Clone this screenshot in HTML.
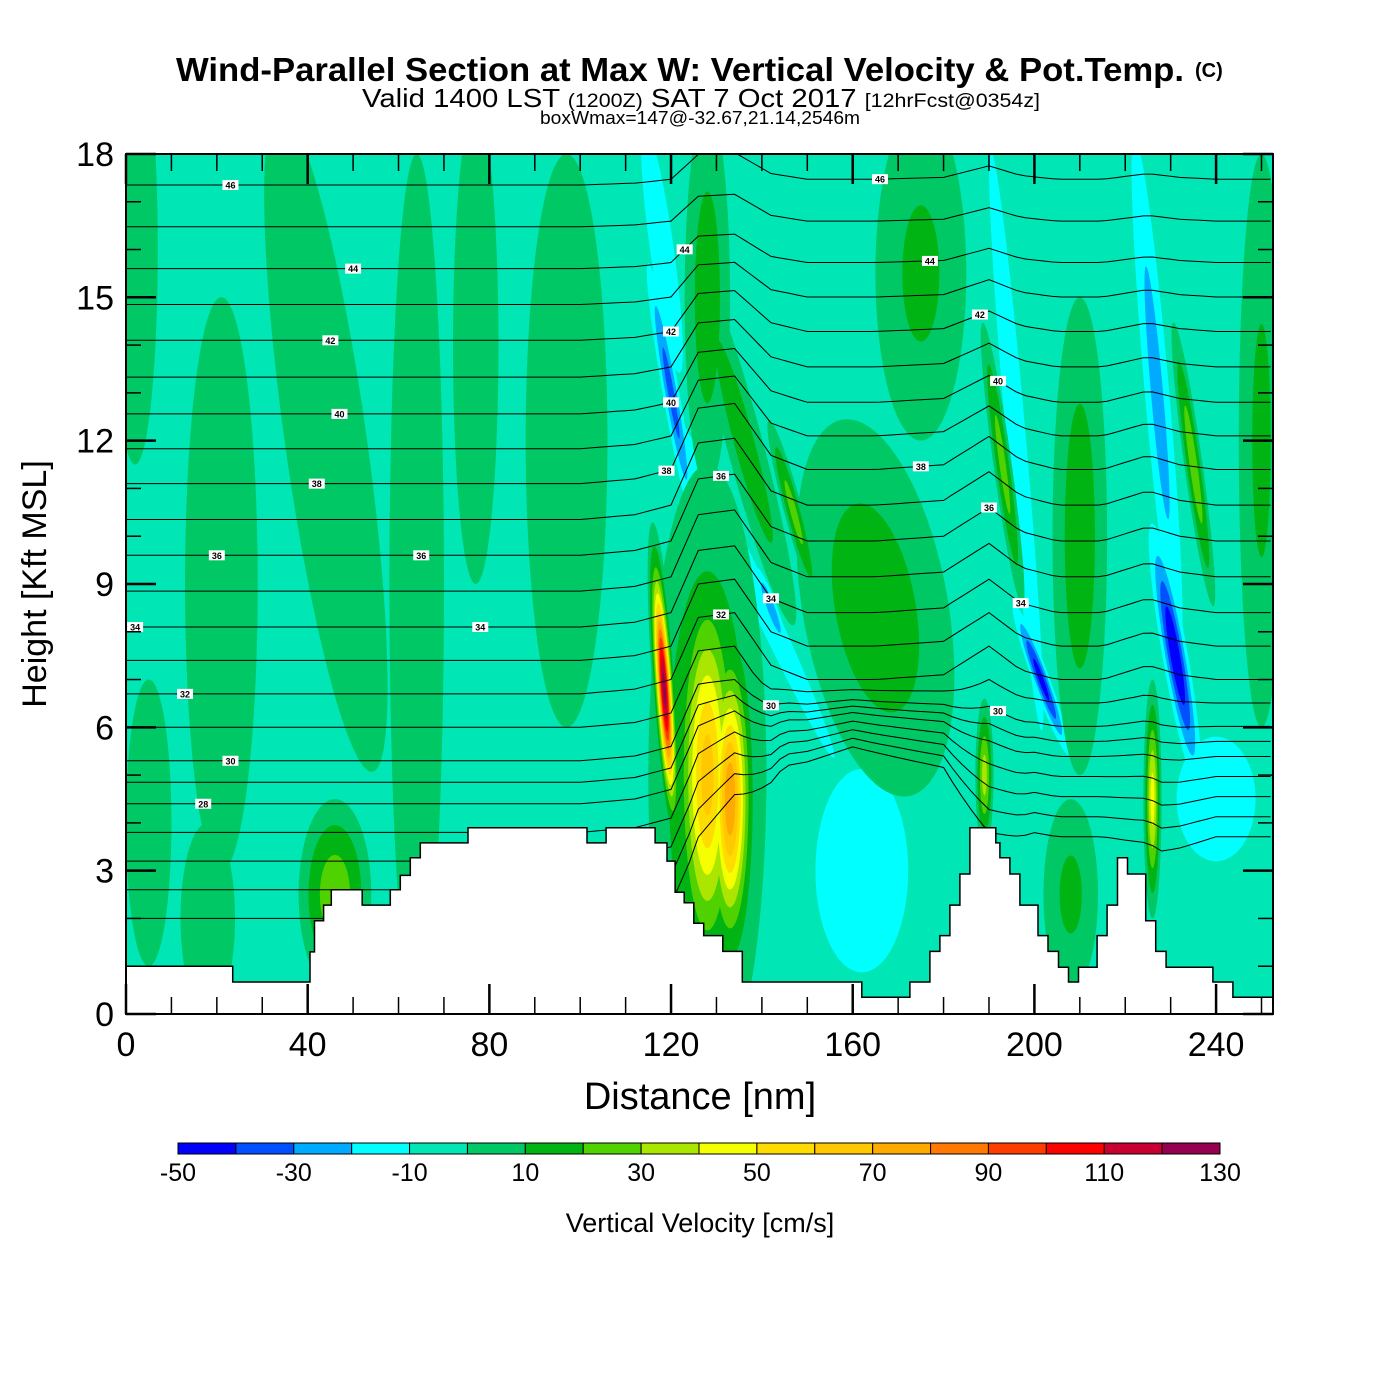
<!DOCTYPE html>
<html><head><meta charset="utf-8"><style>
body{margin:0;background:#fff;}
svg{display:block;font-family:"Liberation Sans",sans-serif;}
</style></head><body>
<svg id="chart" width="1400" height="1400" viewBox="0 0 1400 1400" xmlns="http://www.w3.org/2000/svg">
<rect x="0" y="0" width="1400" height="1400" fill="#fff"/>
<text x="176" y="81" font-size="33" font-weight="bold" textLength="1008" lengthAdjust="spacingAndGlyphs">Wind-Parallel Section at Max W: Vertical Velocity &amp; Pot.Temp.</text>
<text x="1195" y="77" font-size="20" font-weight="bold">(C)</text>
<text x="362" y="107" font-size="26" textLength="678" lengthAdjust="spacingAndGlyphs">Valid 1400 LST <tspan font-size="19">(1200Z)</tspan> SAT 7 Oct 2017 <tspan font-size="19">[12hrFcst@0354z]</tspan></text>
<text x="540" y="124" font-size="18" textLength="320" lengthAdjust="spacingAndGlyphs">boxWmax=147@-32.67,21.14,2546m</text>
<defs><clipPath id="plotclip"><rect x="126" y="154" width="1147" height="860"/></clipPath></defs>
<g id="field" clip-path="url(#plotclip)">
<rect x="126" y="154" width="1147" height="860" fill="#00e6b4"/>
</g>
<g id="axes"></g>
<g id="cbar"></g>
<text x="700" y="1109" text-anchor="middle" font-size="38">Distance [nm]</text>
<text transform="translate(46,584) rotate(-90)" text-anchor="middle" font-size="34">Height [Kft MSL]</text>
<text x="700" y="1232" text-anchor="middle" font-size="27">Vertical Velocity [cm/s]</text>
</svg>
<script>
// ---- data ----
const cbLevels=[-50,-40,-30,-20,-10,0,10,20,30,40,50,60,70,80,90,100,110,120,130];
const cbColors=["#0000ff","#0050ff","#00aaff","#00ffff","#00e6b4","#00c864","#00b414","#50d200","#aae600","#f5ff00","#ffdc00","#ffc800","#ffaa00","#ff7800","#ff3c00","#ff0000","#c80032","#960050"];
const cbLabels=[-50,-30,-10,10,30,50,70,90,110,130];
const xTicks=[0,40,80,120,160,200,240];
const yTicks=[0,3,6,9,12,15,18];
// W features: distance (nm), height (kft), radius nm, radius kft, tilt deg, peak (cm/s)
const featX =[2, 21, 44, 64, 77, 97, 18, 46, 165, 175, 210, 250, 208, 128, 136, 196, 227, 118, 120, 138, 142, 162, 201.5, 231, 240, 5, 128, 133, 128, 118.5, 189, 226, 193, 147, 235];
const featZ =[16, 9, 12, 9, 14, 12, 2, 2.5, 8.5, 15.5, 10, 12, 2.5, 15, 12, 12, 13, 16, 13, 9, 8.5, 3, 7, 7.5, 4.5, 4, 5, 4.5, 5, 6.8, 5, 4.5, 11.5, 10.5, 11.5];
const featRX=[5, 8, 9, 6, 5, 9, 6, 8, 16, 10, 6, 5, 6, 5, 4, 2.5, 3, 3, 2, 3, 1.5, 12, 2, 3, 10, 5, 13, 6, 8, 2.6, 2, 2, 2, 2, 2];
const featRZ=[4.5, 6, 7, 9, 5, 6, 2, 2, 4, 3.5, 5, 6, 2, 4, 4, 7, 6, 3, 3, 5, 1, 2.5, 1.8, 3, 1.5, 3, 6.5, 4, 5, 3.5, 1.6, 2.5, 3, 2, 3];
const featTilt=[0, 0, -8, 0, 0, 0, 0, 0, -10, 0, 0, 0, 0, 0, -15, -5, -5, -8, -10, -25, -20, 0, -20, -10, 0, 0, 0, 0, 0, -4, 0, 0, -8, -15, -8];
const featPeak=[9, 9, 9, 9, 9, 9, 9, 28, 15, 12, 15, 12, 12, 15, 15, -20, -25, -20, -35, -15, -30, -18, -45, -50, -20, 9, 20, 78, 65, 125, 35, 45, 25, 25, 28];
// terrain steps: start distance (nm) and height (kft)
const stepStart=[0,23.5,40.5,41.5,43.5,45.2,52,58.2,60.4,62.6,64.8,75.3,101.5,105.7,116.5,119.1,120.9,122.9,125,127.2,131.4,135.7,162,172.6,177,179.2,181.4,183.6,185.8,191.5,192.4,194.6,196.8,200.8,203,205.3,207.5,209.7,213.8,216,218.3,220.5,224.5,226.7,229,239.3,243.7];
const stepH=[1,0.67,1.3,1.95,2.28,2.6,2.28,2.6,2.9,3.27,3.58,3.9,3.58,3.9,3.58,3.2,2.55,2.33,1.9,1.64,1.31,0.67,0.35,0.67,1.31,1.64,2.28,2.93,3.9,3.58,3.27,2.93,2.28,1.64,1.31,0.98,0.67,0.98,1.64,2.28,3.27,2.93,1.95,1.31,0.98,0.67,0.35];
// potential temperature
const thetaRef=[24,28,30,32,34,36,38,40,42,44,46,48,50];
const thetaHgt=[2.0,4.4,5.3,6.7,8.1,9.6,11.1,12.56,14.1,15.6,17.35,19,20.6];
const dispX=[0,100,112,120,126,134,142,150,165,180,190,197,205,215,225,232,240,253];
const dispV=[0,0,0.1,0.3,1.6,1.7,0.6,0.3,0.3,0.4,1.0,0.5,0.3,0.3,0.6,0.4,0.3,0.3];
const compX=[0,125,135,145,160,180,190,200,215,228,240,253];
const compV=[0,0,0.3,0.6,0.7,0.6,0.2,0.3,0.3,0.2,0.3,0.3];
const labelX=[23,50,45,47,42,20,65,78,2,13,23,17,123,120,120,119,131,131,142,142,166,177,188,192,175,190,197,192];
const labelT=[46,44,42,40,38,36,36,34,34,32,30,28,44,42,40,38,36,32,34,30,46,44,42,40,38,36,34,30];

// ---- helpers ----
const NS="http://www.w3.org/2000/svg";
const X=d=>126+d*4.542, Y=k=>1014-k*47.78;
function mk(tag,attrs,parent){const e=document.createElementNS(NS,tag);for(const k in attrs)e.setAttribute(k,attrs[k]);parent.appendChild(e);return e;}
function interp(xs,ys,x){if(x<=xs[0])return ys[0];for(let i=1;i<xs.length;i++){if(x<=xs[i]){const t=(x-xs[i-1])/(xs[i]-xs[i-1]);return ys[i-1]+t*(ys[i]-ys[i-1]);}}return ys[ys.length-1];}
function colorFor(v){for(let i=0;i<cbColors.length;i++){if(v<cbLevels[i+1])return cbColors[i];}return cbColors[cbColors.length-1];}
const field=document.getElementById('field');

// ---- W field: nested ellipses ----
function drawLevels(sign){
  const levels=sign>0?[0,10,20,30,40,50,60,70,80,90,100,110,120]:[-10,-20,-30,-40,-50];
  levels.forEach(L=>{
    featPeak.forEach((p,i)=>{
      if(sign>0 && !(p>L))return;
      if(sign<0 && !(p<L))return;
      const thr=sign>0?4:-8;
      const ref=sign>0?Math.max(L,4):L;
      let r=Math.sqrt(Math.log(p/ref)/Math.log(p/thr));
      if(!(r>0))return;
      r=Math.min(r,1.0);
      const cx=X(featX[i]),cy=Y(featZ[i]);
      const fill=sign>0?colorFor(L+0.1):colorFor(L-0.1);
      const e=mk('ellipse',{cx:cx,cy:cy,rx:featRX[i]*4.542*r,ry:featRZ[i]*47.78*r,fill:fill,transform:`rotate(${featTilt[i]},${cx},${cy})`},field);
      
      
    });
  });
}
drawLevels(-1);
drawLevels(1);

// ---- theta contours ----
function thetaH(t,d){
  const h0=interp(thetaRef,thetaHgt,t);
  const w=h0<11?1:Math.max(0.4,1-(h0-11)/8);
  let h=h0+interp(dispX,dispV,d)*w;
  const c=interp(compX,compV,d);
  if(h<7) h=7-(7-h)*(1-c);
  return h;
}
for(let t=24;t<=49;t+=1){
  let pts=[];
  for(let d=0;d<=253;d+=2){pts.push(X(d).toFixed(1)+','+Y(thetaH(t,d)).toFixed(1));}
  const pl=mk('polyline',{points:pts.join(' '),fill:'none',stroke:'#000','stroke-width':1},field);
  
  
}
labelX.forEach((d,i)=>{
  const x=X(d),y=Y(thetaH(labelT[i],d));
  const g=mk('g',{},field);
  
  
  mk('rect',{x:x-8,y:y-5,width:16,height:10,fill:'#fff'},g);
  const tx=mk('text',{x:x,y:y+3.5,'font-size':9,'font-weight':'bold','text-anchor':'middle'},g);
  tx.textContent=labelT[i];
});

// ---- terrain ----
let tp=[];
stepStart.forEach((d,i)=>{
  const dEnd=i+1<stepStart.length?stepStart[i+1]:254;
  tp.push(X(d).toFixed(1)+','+Y(stepH[i]).toFixed(1));
  tp.push(X(dEnd).toFixed(1)+','+Y(stepH[i]).toFixed(1));
});
tp.push(X(254).toFixed(1)+',1016');tp.push(X(0).toFixed(1)+',1016');
const terr=mk('polygon',{points:tp.join(' '),fill:'#fff',stroke:'#000','stroke-width':1.5},field);



// ---- axes ----
const ax=document.getElementById('axes');
const frame=mk('rect',{x:126,y:154,width:1147,height:860,fill:'none',stroke:'#000','stroke-width':2},ax);


for(let d=0;d<=250;d+=10){
  const major=d%40===0, len=major?30:17;
  mk('line',{x1:X(d),y1:1014,x2:X(d),y2:1014-len,stroke:'#000','stroke-width':major?2.5:1.5},ax);
  mk('line',{x1:X(d),y1:154,x2:X(d),y2:154+len,stroke:'#000','stroke-width':major?2.5:1.5},ax);
}
for(let k=0;k<=18;k++){
  const major=k%3===0, len=major?30:15;
  mk('line',{x1:126,y1:Y(k),x2:126+len,y2:Y(k),stroke:'#000','stroke-width':major?2.5:1.5},ax);
  mk('line',{x1:1273,y1:Y(k),x2:1273-len,y2:Y(k),stroke:'#000','stroke-width':major?2.5:1.5},ax);
}
xTicks.forEach(v=>{
  const t=mk('text',{x:X(v),y:1056,'font-size':34,'text-anchor':'middle'},ax);
  
  
  t.textContent=v;
});
yTicks.forEach(v=>{
  const t=mk('text',{x:114,y:Y(v)+12,'font-size':34,'text-anchor':'end'},ax);
  
  
  t.textContent=v;
});

// ---- colorbar ----
const cb=document.getElementById('cbar');
const cbX0=178,cbW=(1220-178)/cbColors.length;
cbColors.forEach((c,i)=>{
  const r=mk('rect',{x:cbX0+i*cbW,y:1143,width:cbW,height:11,fill:c,stroke:'#000','stroke-width':1},cb);
  
  
});
cbLabels.forEach(v=>{
  const i=cbLevels.indexOf(v);
  const t=mk('text',{x:cbX0+i*cbW,y:1181,'font-size':25,'text-anchor':'middle'},cb);
  
  
  t.textContent=v;
});
</script>
</body></html>
